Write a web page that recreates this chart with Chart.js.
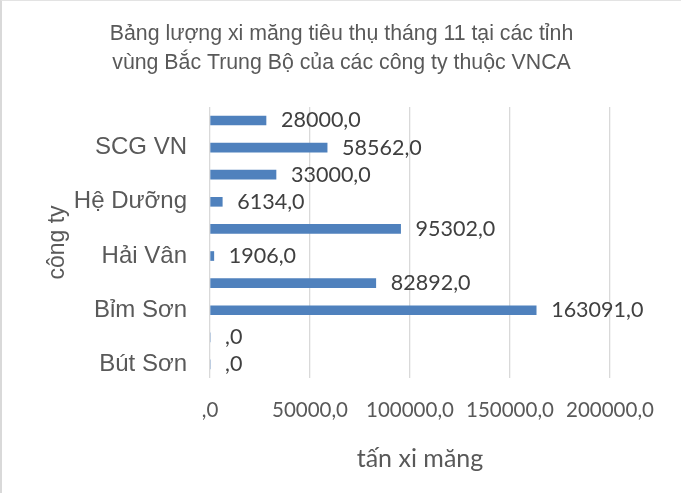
<!DOCTYPE html>
<html>
<head>
<meta charset="utf-8">
<script src="https://cdn.jsdelivr.net/npm/chart.js@4"></script>
<style>
  body { margin: 0; background: #fff; }
  #wrap {
    position: relative;
    box-sizing: border-box;
    width: 681px;
    height: 493px;
    border-left: 2px solid #d9d9d9;
    border-top: 1px solid #e3e3e3;
  }
</style>
</head>
<body>
<div id="wrap"><canvas id="cement-chart"></canvas></div>
<script>
// Excel order: first category sits at the bottom
const companies = ['Bút Sơn', '', 'Bỉm Sơn', '', 'Hải Vân', '', 'Hệ Dưỡng', '', 'SCG VN', ''];
const tons = [0, 0, 163091, 82892, 1906, 95302, 6134, 33000, 58562, 28000];
const xTicks = [0, 50000, 100000, 150000, 200000];
const xTitle = 'tấn xi măng';

const fmt = (v) => `${v === 0 ? '' : v},0`;

// value labels at the end of each bar, plus the x axis title (offset like Excel)
const barLabels = {
  id: 'barLabels',
  afterDatasetsDraw(chart) {
    const { ctx, chartArea } = chart;
    const meta = chart.getDatasetMeta(0);
    ctx.save();
    ctx.font = '21.5px Lato';
    ctx.fillStyle = '#404040';
    ctx.textBaseline = 'middle';
    ctx.textAlign = 'left';
    meta.data.forEach((bar, i) => {
      ctx.fillText(fmt(tons[i]), bar.x + 15, bar.y);
    });
    ctx.font = '25px Lato';
    ctx.fillStyle = '#595959';
    ctx.textAlign = 'center';
    ctx.fillText(xTitle, (chartArea.left + chartArea.right) / 2 + 10, 458);
    ctx.restore();
  },
};

// eslint-disable-next-line no-undef, no-unused-vars
const chart = new Chart(document.getElementById('cement-chart'), {
  type: 'bar',
  data: {
    labels: companies,
    datasets: [{
      data: tons,
      backgroundColor: '#4f81bd',
      borderWidth: 0,
      barThickness: 9,
    }],
  },
  options: {
    indexAxis: 'y',
    responsive: true,
    maintainAspectRatio: false,
    animation: false,
    layout: {
      padding: 0,
    },
    plugins: {
      legend: { display: false },
      tooltip: { enabled: false },
      title: {
        display: true,
        text: ['Bảng lượng xi măng tiêu thụ tháng 11 tại các tỉnh', 'vùng Bắc Trung Bộ của các công ty thuộc VNCA'],
        color: '#595959',
        font: { family: 'Liberation Sans', size: 21.3, weight: 'normal', lineHeight: 1.36 },
        padding: { top: 19, bottom: 29 },
      },
    },
    scales: {
      x: {
        min: 0,
        max: 200000,
        afterBuildTicks: (scale) => {
          scale.ticks = xTicks.map((v) => ({ value: v }));
        },
        afterFit: (scale) => {
          scale.height = 115;
        },
        ticks: {
          callback: (v) => fmt(v),
          color: '#595959',
          font: { family: 'Lato', size: 20.5 },
          padding: 20,
          maxRotation: 0,
        },
        grid: {
          color: '#d9d9d9',
          lineWidth: 1.3,
          drawTicks: false,
        },
        border: { display: false },
      },
      y: {
        reverse: true,
        afterFit: (scale) => {
          scale.width = 208;
        },
        ticks: {
          autoSkip: false,
          callback: (v, i) => companies[i],
          color: '#595959',
          font: { family: 'Liberation Sans', size: 24 },
          padding: 23,
        },
        grid: { display: false, drawTicks: false },
        border: { display: false },
        title: {
          display: true,
          text: 'công ty',
          color: '#595959',
          font: { family: 'Liberation Sans', size: 23 },
          padding: { top: 42, bottom: 0 },
        },
      },
      // empty right-hand gutter so the title stays centred on the whole chart
      gutter: {
        type: 'linear',
        position: 'right',
        display: true,
        ticks: { display: false },
        grid: { display: false },
        border: { display: false },
        afterFit: (scale) => {
          scale.width = 71;
        },
      },
    },
  },
  plugins: [barLabels],
});
</script>
</body>
</html>
